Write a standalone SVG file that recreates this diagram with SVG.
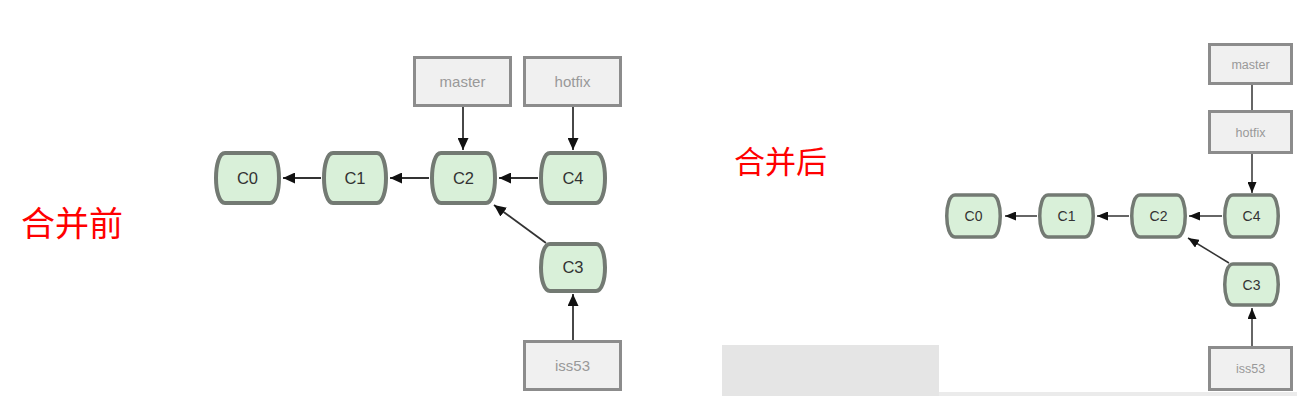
<svg xmlns="http://www.w3.org/2000/svg" width="1310" height="408" viewBox="0 0 1310 408">
<style>
.cm{fill:#d9f0d9;stroke:#737a73;stroke-width:4}
.cmr{fill:#d9f0d9;stroke:#737a73;stroke-width:3.5}
.br{fill:#f0f0f0;stroke:#8c8c8c;stroke-width:3}
.ct{font-family:"Liberation Sans",Arial,sans-serif;font-size:16.5px;fill:#333;text-anchor:middle}
.ctr{font-family:"Liberation Sans",Arial,sans-serif;font-size:14px;fill:#333;text-anchor:middle}
.bt{font-family:"Liberation Sans",Arial,sans-serif;font-size:15px;fill:#999;text-anchor:middle}
.btr{font-family:"Liberation Sans",Arial,sans-serif;font-size:12.5px;fill:#999;text-anchor:middle}
.lbl{font-family:"Noto Sans CJK SC","Noto Sans CJK JP",sans-serif;fill:#ff0000}
.ln{stroke:#333;stroke-width:1.8;fill:none}
.lnr{stroke:#333;stroke-width:1.5;fill:none}
</style>
<defs>
<marker id="ah" markerUnits="userSpaceOnUse" markerWidth="12" markerHeight="11" refX="12" refY="5.5" orient="auto">
<path d="M0,0 L12,5.5 L0,11 z" fill="#111"/>
</marker>
<marker id="ahr" markerUnits="userSpaceOnUse" markerWidth="11" markerHeight="9" refX="11" refY="4.5" orient="auto">
<path d="M0,0 L11,4.5 L0,9 z" fill="#111"/>
</marker>
</defs>
<rect width="1310" height="408" fill="#fff"/>
<rect x="722" y="345" width="217" height="51" fill="#e5e5e5"/>
<rect x="939" y="392" width="358" height="4" fill="#ebebeb"/>

<text class="lbl" x="21" y="236" font-size="34">合并前</text>
<text class="lbl" x="734" y="173" font-size="31">合并后</text>

<g id="connectors">
<path class="ln" d="M321,178 L283,178" marker-end="url(#ah)"/>
<path class="ln" d="M429,178 L390,178" marker-end="url(#ah)"/>
<path class="ln" d="M538,178 L499,178" marker-end="url(#ah)"/>
<path class="ln" d="M463,107 L463,150" marker-end="url(#ah)"/>
<path class="ln" d="M573,107 L573,150" marker-end="url(#ah)"/>
<path class="ln" d="M573,340 L573,294" marker-end="url(#ah)"/>
<path class="ln" d="M546,243 L494,205" marker-end="url(#ah)"/>
<path class="lnr" d="M1037,216 L1005,216" marker-end="url(#ahr)"/>
<path class="lnr" d="M1129,216 L1097,216" marker-end="url(#ahr)"/>
<path class="lnr" d="M1222,216 L1189,216" marker-end="url(#ahr)"/>
<path class="lnr" d="M1252,154 L1252,193" marker-end="url(#ahr)"/>
<path class="lnr" d="M1252,85 L1252,110"/>
<path class="lnr" d="M1252,346 L1252,308" marker-end="url(#ahr)"/>
<path class="lnr" d="M1229,263 L1188,238" marker-end="url(#ahr)"/>
</g>

<g id="L-C0"><path class="cm" d="M225,153 H270 C282,153 282,203 270,203 H225 C213,203 213,153 225,153 Z"/><text class="ct" x="247.5" y="184">C0</text></g>
<g id="L-C1"><path class="cm" d="M333,153 H377 C389,153 389,203 377,203 H333 C321,203 321,153 333,153 Z"/><text class="ct" x="355" y="184">C1</text></g>
<g id="L-C2"><path class="cm" d="M441,153 H486 C498,153 498,203 486,203 H441 C429,203 429,153 441,153 Z"/><text class="ct" x="463.5" y="184">C2</text></g>
<g id="L-C4"><path class="cm" d="M550,153 H596 C608,153 608,203 596,203 H550 C538,203 538,153 550,153 Z"/><text class="ct" x="573" y="184">C4</text></g>
<g id="L-C3"><path class="cm" d="M550,244 H596 C608,244 608,291 596,291 H550 C538,291 538,244 550,244 Z"/><text class="ct" x="573" y="273">C3</text></g>
<g id="L-master"><rect class="br" x="414.5" y="57.5" width="96" height="48"/><text class="bt" x="462.5" y="86.5">master</text></g>
<g id="L-hotfix"><rect class="br" x="524.5" y="57.5" width="96" height="48"/><text class="bt" x="572.5" y="86.5">hotfix</text></g>
<g id="L-iss53"><rect class="br" x="524.5" y="341.5" width="96" height="48"/><text class="bt" x="572.5" y="370.5">iss53</text></g>

<g id="R-C0"><path class="cmr" d="M955,195 H992 C1003,195 1003,237 992,237 H955 C944,237 944,195 955,195 Z"/><text class="ctr" x="973.5" y="221">C0</text></g>
<g id="R-C1"><path class="cmr" d="M1048,195 H1085 C1096,195 1096,237 1085,237 H1048 C1037,237 1037,195 1048,195 Z"/><text class="ctr" x="1066.5" y="221">C1</text></g>
<g id="R-C2"><path class="cmr" d="M1140,195 H1177 C1188,195 1188,237 1177,237 H1140 C1129,237 1129,195 1140,195 Z"/><text class="ctr" x="1158.5" y="221">C2</text></g>
<g id="R-C4"><path class="cmr" d="M1233,195 H1270 C1281,195 1281,237 1270,237 H1233 C1222,237 1222,195 1233,195 Z"/><text class="ctr" x="1251.5" y="221">C4</text></g>
<g id="R-C3"><path class="cmr" d="M1233,264 H1270 C1281,264 1281,305 1270,305 H1233 C1222,305 1222,264 1233,264 Z"/><text class="ctr" x="1251.5" y="289.5">C3</text></g>
<g id="R-master"><rect class="br" x="1209.5" y="44.5" width="82" height="39"/><text class="btr" x="1250.5" y="68.5">master</text></g>
<g id="R-hotfix"><rect class="br" x="1209.5" y="111.5" width="82" height="41"/><text class="btr" x="1250.5" y="136.5">hotfix</text></g>
<g id="R-iss53"><rect class="br" x="1209.5" y="347.5" width="82" height="42"/><text class="btr" x="1250.5" y="373">iss53</text></g>
</svg>
